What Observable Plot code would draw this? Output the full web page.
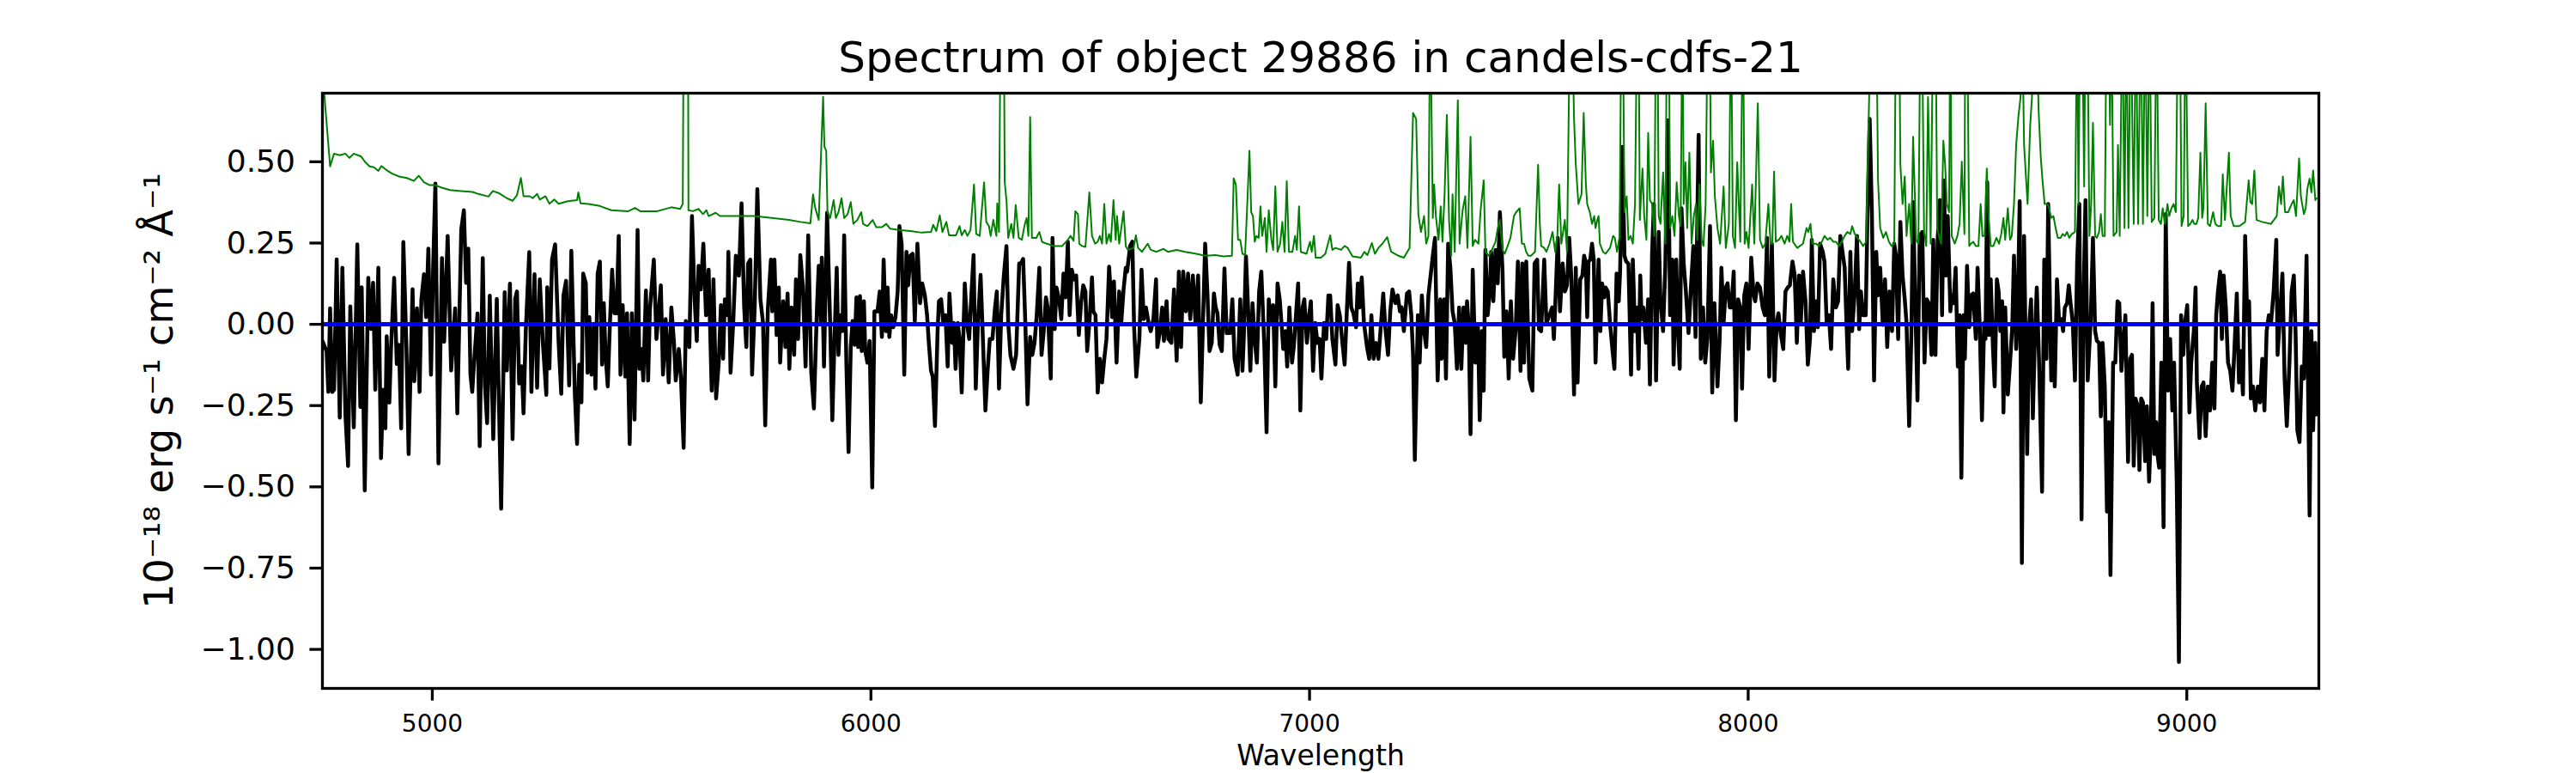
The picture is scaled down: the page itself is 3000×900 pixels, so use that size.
<!DOCTYPE html>
<html><head><meta charset="utf-8">
<script src="https://cdn.jsdelivr.net/npm/d3@7"></script>
<script src="https://cdn.jsdelivr.net/npm/@observablehq/plot@0.6"></script>
<style>html,body{margin:0;padding:0;background:#fff;overflow:hidden} svg{display:block}</style>
</head><body><div id="chart"></div>
<script>
const titleText = "Spectrum of object 29886 in candels-cdfs-21";
const xLabelText = "Wavelength";
const yLabelText = "10⁻¹⁸ erg s⁻¹ cm⁻² Å⁻¹";
const xTicks = [5000, 6000, 7000, 8000, 9000];
const yTicks = [-1, -0.75, -0.5, -0.25, 0, 0.25, 0.5];
const xDomain = [4749.5, 9301];
const yDomain = [-1.12, 0.711];
const zeroLevel = [0];

// [wavelength, flux] of the object spectrum (black)
const fluxPairs = [
[4750,-0.053],[4759,-0.083],[4763,-0.208],[4767,0.049],[4772,-0.208],[4776,-0.201],[4782,0.200],[4789,-0.287],[4795,0.174],[4802,-0.280],
[4808,-0.436],[4813,0.055],[4821,-0.317],[4829,0.246],[4836,-0.254],[4839,0.114],[4846,-0.511],[4854,0.143],[4860,-0.014],[4865,0.128],
[4870,-0.201],[4877,0.174],[4883,-0.412],[4888,-0.201],[4893,-0.320],[4896,-0.037],[4902,-0.241],[4906,-0.070],[4913,0.143],[4919,-0.122],
[4924,-0.063],[4929,-0.320],[4934,0.253],[4941,-0.070],[4946,-0.399],[4955,0.108],[4959,-0.175],[4965,0.049],[4971,-0.208],[4975,0.075],
[4981,0.154],[4986,0.022],[4991,0.233],[4997,-0.155],[5002,0.180],[5007,0.433],[5014,-0.428],[5022,0.204],[5027,-0.054],[5035,0.272],
[5043,-0.142],[5052,0.049],[5057,-0.274],[5066,0.292],[5072,0.351],[5077,0.128],[5082,0.233],[5087,-0.155],[5091,-0.208],[5095,-0.122],
[5103,0.033],[5108,-0.375],[5115,0.204],[5120,-0.188],[5125,-0.304],[5131,0.088],[5139,-0.353],[5147,0.078],[5157,-0.567],[5165,0.099],
[5170,-0.142],[5177,0.125],[5183,-0.353],[5189,0.079],[5193,0.101],[5198,-0.182],[5204,-0.129],[5208,-0.274],[5213,-0.024],[5221,0.222],
[5226,-0.208],[5233,0.154],[5239,-0.195],[5245,0.138],[5252,-0.057],[5260,-0.217],[5262,0.114],[5267,-0.136],[5273,0.200],[5280,0.246],
[5288,-0.057],[5294,-0.214],[5299,0.088],[5305,0.134],[5312,-0.188],[5317,0.226],
[5325,-0.216],[5330,-0.368],[5335,-0.124],[5340,-0.240],[5344,0.156],[5350,0.126],[5354,-0.149],[5358,0.022],[5363,-0.155],[5368,-0.009],
[5372,-0.198],[5377,0.156],[5382,0.193],[5387,-0.124],[5391,0.065],[5395,-0.094],[5400,-0.191],[5405,0.004],[5410,0.168],[5415,0.034],
[5420,0.034],[5425,0.272],[5429,-0.155],[5434,0.059],[5440,-0.161],[5444,0.034],[5450,-0.368],[5455,0.034],[5461,-0.293],[5468,0.290],
[5472,-0.137],[5477,-0.076],[5481,-0.173],[5487,0.104],[5492,-0.173],[5496,0.043],[5505,0.199],[5511,-0.045],[5521,0.120],[5526,-0.155],
[5532,0.016],[5539,-0.179],[5545,0.052],[5551,-0.057],[5555,-0.173],[5562,-0.076],[5567,-0.167],[5573,-0.380],[5578,0.010],[5586,-0.070],
[5592,0.333],[5598,0.077],[5603,-0.051],[5607,0.180],[5612,0.107],[5618,0.248],[5624,0.028],[5630,0.168],[5637,-0.204],[5641,0.138],
[5647,-0.228],[5653,-0.118],[5658,0.059],[5663,-0.106],[5667,0.077],[5673,0.028],[5675,0.223],[5680,-0.149],[5686,0.004],[5692,0.211],
[5699,0.150],[5705,0.372],[5711,0.052],[5716,-0.070],[5720,0.187],[5725,0.199],[5729,-0.155],[5735,0.052],[5741,0.416],[5748,0.077],
[5754,0.004],[5759,-0.311],[5765,0.046],[5772,0.199],[5775,0.040],[5780,0.199],[5785,-0.033],[5790,0.113],[5793,-0.118],[5800,0.071],
[5805,-0.070],[5810,0.095],[5814,-0.137],[5819,0.052],[5825,-0.094],[5829,0.138],[5834,-0.045],[5839,0.213],[5845,0.113],[5851,-0.130],
[5857,0.274],[5864,-0.149],[5870,-0.259],[5877,0.052],[5881,0.180],[5886,0.004],[5888,0.205],[5893,-0.130],[5900,0.343],
[5907,0.004],[5912,-0.295],[5917,-0.045],[5922,0.174],[5926,-0.094],[5930,0.028],[5935,-0.021],[5939,0.274],[5944,-0.118],[5949,-0.393],
[5954,-0.070],[5958,0.010],[5963,-0.063],[5967,0.083],[5971,-0.070],[5975,0.087],[5979,-0.082],[5984,0.071],[5987,-0.082],[5992,-0.118],
[5997,-0.051],[6003,-0.502],[6008,0.040],[6015,0.040],[6020,0.101],[6025,-0.039],[6029,0.199],[6034,-0.021],[6038,0.113],[6042,-0.039],
[6046,0.028],[6051,-0.009],[6056,0.022],[6061,0.101],[6065,0.302],[6070,0.248],[6076,-0.155],[6081,0.223],[6085,0.120],[6090,0.211],
[6095,0.217],[6100,0.010],[6106,0.248],[6112,0.065],[6117,0.126],[6123,0.089],[6128,0.028],[6132,-0.057],[6137,-0.143],[6141,-0.161],
[6146,-0.313],[6152,-0.021],[6155,0.071],[6160,0.077],[6165,0.004],[6170,0.028],[6175,-0.130],[6179,0.095],[6185,-0.057],[6189,0.004],
[6193,-0.137],[6198,0.004],[6202,-0.045],[6207,-0.210],[6214,0.126],[6219,0.004],[6224,-0.045],[6228,0.065],[6234,0.213],[6239,-0.198],
[6244,0.004],[6250,0.152],[6254,0.004],[6261,-0.265],[6266,-0.143],[6271,-0.045],[6277,-0.045],[6283,0.052],[6287,0.101],[6292,-0.198],
[6297,0.028],[6303,0.150],[6309,0.241],[6313,0.004],[6318,-0.094],[6325,-0.137],[6331,-0.094],[6338,0.187],[6342,0.187],[6347,0.201],
[6352,0.004],[6357,-0.246],[6363,-0.039],[6368,-0.094],[6373,-0.057],[6378,0.028],[6384,0.174],[6389,-0.094],[6394,-0.021],[6399,0.083],
[6403,0.052],[6410,-0.167],[6414,0.266],[6419,-0.015],[6423,0.113],[6429,0.077],[6434,0.016],[6439,0.156],[6444,0.083],[6449,0.254],
[6453,0.028],[6458,0.168],[6463,0.138],[6468,0.150],[6474,-0.033],[6479,0.065],[6484,0.120],[6489,0.101],[6493,-0.082],[6498,0.004],
[6504,0.144],[6507,0.040],[6512,0.028],[6517,-0.210],[6522,-0.106],[6527,-0.179],[6532,-0.106],[6537,-0.045],[6543,0.177],[6550,0.022],
[6554,0.132],[6560,-0.118],[6566,0.101],[6571,0.010],[6576,0.107],[6581,0.174],[6584,0.162],[6591,0.241],[6596,0.254],[6600,-0.009],
[6605,-0.161],[6612,-0.045],[6617,0.168],[6622,0.016],[6627,0.052],[6633,0.004],[6638,-0.021],[6644,0.016],[6650,0.138],[6653,-0.070],
[6659,-0.021],[6664,0.052],[6668,-0.051],[6674,0.071],[6678,-0.045],[6685,-0.057],[6691,0.107],[6697,-0.112],[6702,0.162],[6707,-0.070],
[6712,0.162],[6718,0.040],[6723,0.156],[6728,0.016],[6734,0.150],[6740,0.004],[6746,0.150],[6752,-0.240],
[6757,0.004],[6762,0.248],[6767,0.101],[6772,-0.082],[6777,-0.057],[6782,0.095],[6786,0.052],[6790,0.034],[6795,-0.063],[6800,-0.082],
[6806,0.172],[6811,-0.027],[6819,-0.027],[6824,0.077],[6829,-0.106],[6836,-0.155],[6842,0.077],[6847,-0.143],[6850,-0.045],[6855,0.209],
[6860,0.046],[6865,-0.143],[6870,0.065],[6875,-0.051],[6880,-0.118],[6885,0.101],[6890,0.162],[6897,-0.070],[6902,-0.332],[6907,0.077],
[6912,0.004],[6917,0.059],[6922,-0.191],[6927,0.126],[6932,0.077],[6936,0.004],[6940,-0.076],[6945,-0.021],[6949,-0.130],[6954,0.052],
[6960,-0.118],[6964,-0.070],[6969,0.028],[6974,0.126],[6979,-0.265],[6984,0.052],[6988,0.077],[6994,-0.057],[6999,0.028],[7003,0.071],
[7008,-0.143],[7013,0.004],[7018,-0.057],[7023,-0.045],[7027,-0.167],[7033,0.004],[7038,-0.045],[7043,0.089],[7047,0.089],[7052,-0.045],
[7059,-0.124],[7064,0.059],[7069,0.028],[7074,-0.045],[7080,-0.124],[7085,0.040],[7090,0.189],[7095,0.052],[7100,0.034],[7106,-0.009],
[7110,0.126],[7114,0.052],[7119,0.144],[7124,0.004],[7131,-0.070],[7136,-0.106],[7141,0.028],[7146,-0.106],[7151,-0.057],[7157,-0.106],
[7163,0.004],[7168,0.095],[7173,-0.015],[7179,-0.094],[7184,0.040],[7189,0.107],[7196,0.065],[7201,0.089],[7206,0.040],[7210,0.052],
[7215,-0.021],[7222,0.095],[7227,0.101],[7232,0.028],[7236,-0.094],[7240,-0.417],[7247,0.028],[7251,-0.118],[7256,0.089],[7261,-0.021],
[7266,-0.070],[7271,0.089],[7275,0.138],[7281,0.211],[7286,0.266],[7292,-0.173],[7298,0.077],[7301,-0.106],[7307,0.077],[7311,-0.167],
[7316,0.248],[7321,0.174],[7326,0.040],[7331,0.004],[7336,-0.137],[7341,0.052],[7346,-0.137],[7351,0.052],[7356,-0.057],[7359,0.071],
[7363,-0.009],[7367,-0.338],[7372,0.168],[7378,-0.118],[7384,-0.009],[7388,-0.295],[7393,-0.021],[7397,-0.204],[7401,0.229],[7406,0.028],
[7411,0.101],[7414,0.223],[7419,0.071],[7424,0.229],[7429,0.126],[7434,0.345],[7440,0.162],[7444,-0.100],[7449,0.040],[7454,-0.167],
[7459,0.071],[7464,-0.106],[7470,-0.015],[7475,0.193],[7481,-0.143],[7485,0.187],[7489,-0.118],[7494,0.193],[7501,-0.167],[7508,-0.204],
[7513,0.187],[7519,0.199],[7523,-0.015],[7528,-0.021],[7535,0.199],[7540,0.004],[7547,0.028],[7553,0.052],[7557,-0.045],[7561,0.089],
[7566,0.266],[7571,0.040],[7577,0.187],[7582,0.101],[7587,0.120],[7592,0.266],[7597,0.138],[7603,-0.216],[7607,0.174],
[7611,-0.179],[7617,0.138],[7622,0.150],[7626,0.211],[7630,0.187],[7633,0.022],[7636,0.193],[7640,0.199],[7644,0.248],[7648,0.199],
[7652,-0.118],[7659,0.199],[7663,-0.021],[7667,0.126],[7672,0.083],[7675,0.113],[7680,0.101],[7685,0.004],[7690,-0.070],[7695,-0.137],
[7700,0.156],[7705,0.071],[7708,0.162],[7713,0.546],[7718,0.211],[7722,0.193],[7727,0.187],[7733,-0.155],[7737,0.199],[7742,-0.021],
[7746,0.052],[7750,-0.137],[7754,0.150],[7757,0.016],[7761,0.052],[7767,-0.057],[7772,0.077],[7776,-0.185],[7781,0.223],[7785,0.370],
[7790,-0.173],[7796,0.284],[7800,0.077],[7806,-0.021],[7811,0.174],[7817,0.628],[7822,0.028],[7827,0.199],[7830,-0.124],[7836,0.199],
[7840,-0.021],[7844,-0.137],[7848,0.357],[7853,0.187],[7858,0.101],[7864,-0.027],[7870,0.126],[7875,0.241],[7880,-0.039],[7887,0.583],
[7892,-0.106],[7897,0.052],[7902,-0.118],[7907,-0.045],[7913,0.302],[7918,-0.210],[7923,0.065],[7930,-0.191],[7935,-0.045],[7939,0.174],
[7944,0.004],[7949,0.113],[7953,0.126],[7958,0.052],[7962,0.052],[7967,0.162],[7972,-0.295],[7977,0.077],[7982,0.052],[7986,-0.198],
[7991,0.089],[7996,0.126],[8001,-0.076],[8007,0.205],[8012,0.095],[8016,0.071],[8021,0.126],[8027,0.113],[8033,0.052],[8038,0.028],
[8043,0.266],[8048,-0.161],[8054,0.248],[8060,-0.173],[8065,0.004],[8069,0.034],[8074,-0.027],[8080,-0.076],[8085,0.101],[8090,0.113],
[8095,0.120],[8101,0.193],[8106,0.152],[8111,-0.057],[8116,0.150],[8120,0.004],[8125,0.162],[8131,0.065],[8136,-0.124],[8141,-0.045],
[8145,0.260],[8150,-0.021],[8155,0.071],[8159,-0.009],[8164,0.248],[8170,0.223],[8174,0.193],[8179,0.004],[8184,0.028],[8189,-0.076],
[8194,0.138],[8200,0.052],[8205,0.071],[8210,0.272],[8215,0.223],[8220,0.174],[8224,0.010],[8228,-0.137],[8233,0.223],[8237,-0.021],
[8243,0.101],[8248,0.272],[8253,-0.015],[8257,0.101],[8262,0.028],[8268,0.028],[8272,0.333],[8277,0.632],[8282,0.345],[8287,-0.173],
[8292,0.223],[8296,0.089],[8301,0.174],[8307,-0.002],[8312,0.138],[8317,-0.070],[8322,0.101],[8328,-0.021],[8333,0.248],[8337,0.211],
[8342,-0.045],[8347,0.315],[8352,0.150],[8357,0.077],[8361,0.004],[8367,-0.313],[8372,-0.033],[8376,0.376],[8382,0.004],[8386,-0.234],
[8391,0.272],[8397,0.284],[8402,-0.118],[8407,0.077],[8412,0.065],[8418,-0.094],[8422,0.260],[8427,-0.094],[8432,0.260],[8437,0.382],
[8442,0.028],[8446,0.443],[8451,0.150],[8455,0.333],[8458,0.187],
[8461,0.040],[8464,0.089],[8468,0.065],[8473,0.174],[8478,-0.130],[8482,0.028],[8486,-0.472],[8491,0.028],[8494,-0.106],[8499,0.180],
[8504,-0.009],[8508,0.089],[8513,0.095],[8519,-0.045],[8523,0.174],[8528,-0.009],[8533,-0.295],[8538,0.004],[8541,-0.045],[8545,0.437],
[8549,-0.033],[8553,0.138],[8558,-0.070],[8562,-0.191],[8567,0.138],[8571,0.101],[8575,-0.021],[8579,0.071],[8582,-0.271],[8586,0.052],
[8592,-0.216],[8597,-0.118],[8602,-0.009],[8606,0.211],[8611,-0.076],[8614,0.004],[8619,0.379],[8624,-0.734],[8629,0.272],[8636,-0.399],
[8641,0.004],[8645,0.077],[8649,-0.289],[8654,-0.021],[8658,0.113],[8663,-0.106],[8670,-0.515],[8675,0.199],[8680,-0.106],[8684,0.370],
[8691,-0.173],[8695,-0.009],[8699,-0.191],[8704,0.138],[8709,0.004],[8714,0.016],[8718,-0.021],[8722,0.052],[8727,0.065],[8731,0.120],
[8735,0.065],[8740,0.004],[8745,-0.173],[8750,0.193],[8755,0.370],[8760,-0.600],[8765,0.107],[8769,0.382],[8774,-0.173],[8781,0.016],
[8786,0.266],[8791,-0.021],[8795,-0.051],[8800,-0.057],[8804,-0.283],[8808,-0.057],[8813,-0.191],[8818,-0.576],[8822,-0.301],[8826,-0.771],
[8832,-0.118],[8837,-0.118],[8842,0.071],[8846,0.065],[8851,-0.143],[8856,-0.045],[8860,0.028],[8866,-0.423],[8871,-0.106],[8875,-0.094],
[8879,-0.435],[8883,-0.228],[8888,-0.252],[8892,-0.448],[8896,-0.228],[8900,-0.240],[8905,-0.421],[8909,-0.252],[8914,-0.484],[8918,-0.338],
[8922,0.065],[8926,-0.399],[8930,-0.301],[8933,-0.399],[8937,-0.441],[8942,-0.118],[8947,-0.624],[8952,0.339],[8957,-0.204],[8962,-0.045],
[8967,-0.265],[8971,-0.118],[8977,-0.484],[8982,-1.039],[8987,0.028],[8992,-0.094],[8996,0.004],[9001,0.059],[9006,-0.271],[9010,-0.118],
[9016,-0.021],[9020,0.113],[9023,-0.179],[9029,-0.350],[9034,-0.191],[9038,-0.179],[9043,-0.344],[9048,-0.191],[9053,-0.265],[9058,-0.118],
[9063,-0.259],[9067,0.028],[9071,0.101],[9076,0.162],[9080,-0.045],[9084,0.150],[9089,0.052],[9094,-0.118],[9099,-0.143],[9104,-0.204],
[9108,-0.094],[9114,0.095],[9119,-0.179],[9123,-0.082],[9128,-0.216],[9133,0.272],[9138,0.004],[9142,0.071],[9146,-0.228],[9151,-0.191],
[9156,-0.265],[9162,-0.191],[9167,-0.240],[9172,-0.106],[9177,-0.265],[9182,-0.021],[9187,0.028],[9192,0.004],[9198,0.101],[9204,0.260],
[9207,-0.094],[9213,0.040],[9218,0.156],[9223,-0.167],[9228,-0.313],[9234,-0.118],[9239,0.101],[9244,0.150],[9248,-0.027],[9252,-0.326],
[9257,-0.362],[9262,-0.130],[9267,-0.167],[9273,0.211],[9280,-0.588],[9284,-0.021],[9288,-0.326],[9293,-0.057],[9296,-0.277]
];

// [wavelength, noise] of the uncertainty spectrum (green)
const noisePairs = [
[4750,0.90],[4753,0.72],[4767,0.486],[4776,0.525],[4789,0.520],[4802,0.525],[4811,0.512],[4821,0.525],[4838,0.516],[4847,0.499],
[4857,0.486],[4867,0.483],[4877,0.472],[4884,0.487],[4896,0.474],[4909,0.463],[4926,0.454],[4942,0.450],[4958,0.441],[4969,0.457],
[4981,0.437],[4994,0.428],[5007,0.428],[5020,0.421],[5040,0.413],[5066,0.410],[5092,0.407],[5105,0.401],[5128,0.393],[5138,0.410],
[5151,0.404],[5170,0.388],[5183,0.380],[5193,0.397],[5202,0.450],[5208,0.394],[5222,0.394],[5229,0.388],[5239,0.401],[5245,0.384],
[5258,0.394],[5267,0.371],[5278,0.384],[5288,0.371],[5307,0.378],[5317,0.380],[5330,0.382],[5333,0.406],[5338,0.372],[5356,0.370],
[5382,0.364],[5408,0.351],[5447,0.348],[5462,0.358],[5474,0.348],[5513,0.348],[5545,0.360],[5565,0.355],[5571,0.370],[5575,1.5],
[5582,1.5],[5584,0.351],[5594,0.348],[5607,0.355],[5617,0.339],[5625,0.351],[5630,0.333],[5646,0.343],[5656,0.333],[5682,0.333],
[5708,0.333],[5734,0.333],[5774,0.327],[5813,0.321],[5839,0.315],[5862,0.311],[5868,0.400],[5873,0.358],[5881,0.321],[5888,0.589],
[5891,0.700],[5894,0.546],[5898,0.535],[5901,0.345],[5907,0.327],[5915,0.382],[5920,0.327],[5926,0.345],[5933,0.388],[5939,0.327],
[5947,0.339],[5954,0.376],[5960,0.309],[5969,0.321],[5978,0.345],[5982,0.309],[5992,0.302],[6004,0.321],[6012,0.299],[6025,0.299],
[6035,0.309],[6044,0.294],[6064,0.290],[6090,0.287],[6116,0.282],[6137,0.284],[6142,0.306],[6149,0.287],[6157,0.335],[6163,0.284],
[6172,0.315],[6178,0.274],[6194,0.274],[6202,0.302],[6207,0.274],[6214,0.290],[6220,0.272],[6227,0.290],[6235,0.430],[6240,0.278],
[6248,0.272],[6258,0.437],[6263,0.315],[6269,0.302],[6273,0.272],[6279,0.321],[6286,0.272],[6288,0.372],[6292,0.284],[6297,1.2],
[6302,1.2],[6305,0.437],[6309,0.382],[6313,0.266],[6320,0.309],[6325,0.266],[6330,0.367],[6337,0.266],[6344,0.260],[6351,0.309],
[6355,0.327],[6359,0.272],[6363,0.638],[6367,0.266],[6377,0.266],[6384,0.284],[6390,0.254],[6397,0.250],[6416,0.241],[6436,0.241],
[6449,0.260],[6455,0.272],[6462,0.257],[6466,0.348],[6472,0.339],[6475,0.248],[6481,0.241],[6489,0.238],[6498,0.406],[6504,0.272],
[6511,0.248],[6517,0.254],[6522,0.272],[6527,0.248],[6532,0.370],[6537,0.248],[6543,0.278],[6547,0.254],[6553,0.382],[6558,0.260],
[6561,0.333],[6566,0.248],[6576,0.348],[6581,0.241],[6586,0.229],[6599,0.235],[6604,0.274],[6609,0.235],[6618,0.223],[6631,0.248],
[6638,0.229],[6651,0.223],[6667,0.232],[6677,0.223],[6697,0.229],[6716,0.223],[6742,0.217],[6755,0.213],[6765,0.211],[6785,0.213],
[6804,0.209],[6823,0.211],[6827,0.449],[6832,0.430],[6837,0.260],[6842,0.260],[6847,0.217],[6853,0.213],[6858,0.370],[6863,0.534],
[6867,0.345],[6871,0.333],[6875,0.254],[6879,0.272],[6884,0.266],[6888,0.363],[6892,0.272],[6898,0.327],[6902,0.223],[6907,0.351],
[6913,0.260],[6917,0.229],[6922,0.424],[6927,0.223],[6933,0.248],[6938,0.315],[6943,0.223],[6948,0.440],[6953,0.223],[6961,0.223],
[6967,0.272],[6971,0.229],[6976,0.363],[6980,0.223],[6993,0.217],[7001,0.254],[7005,0.223],[7010,0.272],[7014,0.205],[7026,0.205],
[7036,0.217],[7047,0.274],[7052,0.229],[7059,0.235],[7072,0.229],[7080,0.241],[7087,0.235],[7098,0.209],[7117,0.205],[7125,0.223],
[7132,0.213],[7142,0.250],[7149,0.217],[7157,0.235],[7166,0.248],[7177,0.268],[7186,0.223],[7202,0.211],[7215,0.205],[7228,0.235],
[7236,0.650],[7243,0.632],[7248,0.339],[7254,0.284],[7261,0.333],[7266,0.248],[7271,0.272],[7275,1.0],[7281,0.327],[7284,0.430],
[7288,0.333],[7294,0.260],[7299,0.363],[7303,0.254],[7308,0.406],[7313,0.644],[7318,0.321],[7323,0.211],[7326,0.400],[7331,0.223],
[7338,0.689],[7342,0.248],[7349,0.351],[7355,0.394],[7360,0.235],[7367,0.577],[7372,0.241],[7377,0.260],[7385,0.248],[7390,0.351],
[7397,0.443],[7401,0.223],[7408,0.211],[7414,0.223],[7424,0.254],[7429,0.296],[7434,0.321],[7440,0.229],[7445,0.217],[7450,0.235],
[7458,0.266],[7466,0.333],[7471,0.345],[7479,0.357],[7484,0.248],[7489,0.248],[7494,0.223],[7499,0.211],[7505,0.211],[7514,0.223],
[7521,0.491],[7525,0.309],[7528,0.241],[7535,0.235],[7540,0.223],[7547,0.248],[7554,0.284],[7560,0.223],[7565,0.274],[7569,0.430],
[7574,0.248],[7582,0.321],[7587,0.223],[7594,1.0],[7598,1.0],[7603,0.632],[7607,0.491],[7613,0.370],[7620,0.400],[7625,0.650],
[7630,0.430],[7633,0.370],[7639,0.345],[7644,0.309],[7649,0.333],[7652,0.296],[7656,0.321],[7659,0.333],[7662,0.248],[7669,0.223],
[7675,0.217],[7685,0.235],[7692,0.272],[7696,0.266],[7701,0.223],[7707,0.272],[7711,1.0],[7714,1.0],[7718,0.345],[7723,0.394],
[7727,0.260],[7732,0.272],[7737,0.248],[7742,0.370],[7747,1.0],[7750,1.0],[7753,0.321],[7759,0.479],[7763,0.333],[7768,0.260],
[7772,0.589],[7776,0.382],[7781,0.370],[7786,0.272],[7790,1.0],[7793,1.0],[7796,0.333],[7800,0.309],[7806,0.467],[7811,0.248],
[7815,1.0],[7819,1.0],[7822,0.296],[7827,0.333],[7832,0.272],[7837,0.437],[7842,0.333],[7846,0.302],[7850,1.0],[7853,0.370],
[7857,0.498],[7861,0.296],[7866,0.528],[7871,0.248],[7876,0.333],[7881,0.370],[7884,0.260],[7889,0.430],[7894,0.260],[7898,0.241],
[7903,0.370],[7908,1.0],[7912,1.0],[7915,0.467],[7920,0.565],[7924,0.394],[7930,0.296],[7936,0.248],[7944,0.424],[7949,0.235],
[7956,0.309],[7961,1.0],[7965,0.272],[7970,0.235],[7975,0.498],[7982,0.254],[7988,1.0],[7992,0.248],[7996,0.284],[8001,0.235],
[8009,0.430],[8014,0.248],[8022,0.680],[8027,0.260],[8033,0.235],[8039,0.248],[8046,0.370],[8051,0.248],[8055,0.248],[8059,0.470],
[8063,0.254],[8070,0.260],[8076,0.272],[8083,0.248],[8089,0.272],[8094,0.254],[8098,0.370],[8102,0.254],[8112,0.235],[8125,0.248],
[8133,0.296],[8137,0.284],[8142,0.309],[8146,0.248],[8155,0.248],[8161,0.241],[8168,0.254],[8174,0.272],[8181,0.260],[8187,0.266],
[8194,0.254],[8200,0.254],[8207,0.241],[8213,0.254],[8220,0.272],[8226,0.284],[8233,0.278],[8237,0.302],[8243,0.278],[8249,0.266],
[8256,0.254],[8262,0.241],[8269,0.254],[8275,0.650],[8281,1.0],[8287,1.0],[8292,1.0],[8296,0.443],[8301,0.296],[8308,0.266],
[8314,0.284],[8321,0.254],[8327,0.241],[8333,0.248],[8337,1.0],[8344,1.0],[8347,0.491],[8352,0.370],[8357,0.455],[8361,0.272],
[8367,0.370],[8372,0.248],[8376,0.577],[8383,0.260],[8388,0.248],[8393,1.0],[8396,1.0],[8401,0.284],[8406,0.241],[8410,0.699],
[8416,0.248],[8422,1.0],[8427,1.0],[8431,0.296],[8435,0.272],[8440,0.248],[8445,0.565],[8449,0.491],[8453,0.370],[8458,0.345],
[8461,1.0],[8464,0.272],[8471,0.248],[8477,0.272],[8482,0.309],[8487,0.500],[8493,0.278],[8495,1.0],[8499,1.0],[8504,0.241],
[8508,0.248],[8513,0.254],[8519,0.241],[8525,0.241],[8530,0.370],[8534,0.272],[8539,0.272],[8544,0.479],[8548,0.333],[8553,0.241],
[8559,0.241],[8566,0.266],[8572,0.248],[8577,0.278],[8582,0.327],[8586,0.260],[8592,0.357],[8597,0.260],[8601,0.272],[8606,0.370],
[8611,0.552],[8616,0.638],[8621,0.699],[8624,1.0],[8629,0.552],[8637,0.370],[8643,0.613],[8647,0.699],[8652,1.0],[8657,1.0],
[8662,0.662],[8667,0.516],[8671,0.443],[8676,0.370],[8682,0.370],[8686,0.357],[8691,0.327],[8696,0.333],[8701,0.296],[8706,0.266],
[8712,0.266],[8717,0.278],[8722,0.272],[8727,0.284],[8732,0.266],[8738,0.278],[8745,0.284],[8750,1.0],[8753,0.370],[8757,1.0],
[8761,1.0],[8766,0.424],[8769,1.0],[8773,1.0],[8778,0.272],[8782,0.370],[8786,0.620],[8791,0.272],[8795,0.266],[8800,0.284],
[8804,0.339],[8808,0.272],[8813,0.272],[8817,1.0],[8821,1.0],[8825,0.613],[8828,1.0],[8833,0.272],[8840,0.284],[8843,0.552],
[8847,0.272],[8853,1.0],[8858,0.296],[8862,1.0],[8867,0.296],[8872,1.0],[8879,0.309],[8884,1.0],[8889,0.309],[8895,1.0],
[8900,0.309],[8905,1.0],[8910,0.333],[8915,1.0],[8920,0.315],[8926,0.327],[8931,1.0],[8936,0.321],[8941,0.309],[8945,0.357],
[8950,0.309],[8956,0.370],[8960,0.333],[8965,0.357],[8970,0.370],[8975,0.345],[8980,1.0],[8984,1.0],[8988,0.302],[8993,0.333],
[8997,1.0],[9003,0.302],[9008,0.309],[9013,0.321],[9017,0.309],[9022,0.309],[9026,0.327],[9031,0.528],[9035,0.327],[9038,0.357],
[9043,0.680],[9048,0.309],[9053,0.302],[9060,0.345],[9065,0.309],[9071,0.302],[9078,0.302],[9082,0.461],[9087,0.321],[9091,0.418],
[9096,0.528],[9100,0.333],[9107,0.302],[9120,0.302],[9133,0.315],[9141,0.443],[9145,0.376],[9149,0.370],[9154,0.473],[9159,0.321],
[9172,0.315],[9192,0.309],[9205,0.333],[9210,0.424],[9215,0.370],[9219,0.455],[9224,0.345],[9231,0.345],[9239,0.370],[9244,0.382],
[9249,0.333],[9256,0.510],[9260,0.394],[9267,0.339],[9271,0.357],[9275,0.418],[9280,0.448],[9284,0.406],[9288,0.473],[9293,0.382],
[9296,0.388]
];

const flux = fluxPairs.map(([w, f]) => ({w, f}));
const noise = noisePairs.map(([w, s]) => ({w, s}));
const font = "DejaVu Sans";

const chart = Plot.plot({
  width: 3000,
  height: 900,
  marginLeft: 375,
  marginRight: 300,
  marginTop: 108,
  marginBottom: 99,
  style: {fontFamily: font, background: "white", color: "black", overflow: "visible"},
  x: {domain: xDomain},
  y: {domain: yDomain},
  marks: [
    Plot.line(flux, {x: "w", y: "f", stroke: "black", strokeWidth: 4.5, clip: true}),
    Plot.line(noise, {x: "w", y: "s", stroke: "#008000", strokeWidth: 2, clip: true}),
    Plot.ruleY(zeroLevel, {stroke: "#0000ff", strokeWidth: 5}),
    Plot.frame({stroke: "black", strokeWidth: 3.3}),
    Plot.axisX({ticks: xTicks, tickFormat: d => String(d), tickSize: 14.6, tickPadding: 16, fontSize: 28, strokeWidth: 3.3, label: null}),
    Plot.axisY({ticks: yTicks, tickFormat: d3.format(".2f"), tickSize: 14.6, tickPadding: 17, fontSize: 36, strokeWidth: 3.3, label: null}),
    Plot.text([titleText], {text: d => d, frameAnchor: "top", lineAnchor: "bottom", dy: -25, fontSize: 50, fontFamily: font}),
    Plot.text([xLabelText], {text: d => d, frameAnchor: "bottom", lineAnchor: "bottom", dy: 89, fontSize: 33, fontFamily: font}),
    Plot.text([yLabelText], {text: d => d, frameAnchor: "left", textAnchor: "middle", lineAnchor: "middle", rotate: -90, dx: -189, fontSize: 46, fontFamily: font})
  ]
});
document.getElementById("chart").appendChild(chart);
</script>
</body></html>
